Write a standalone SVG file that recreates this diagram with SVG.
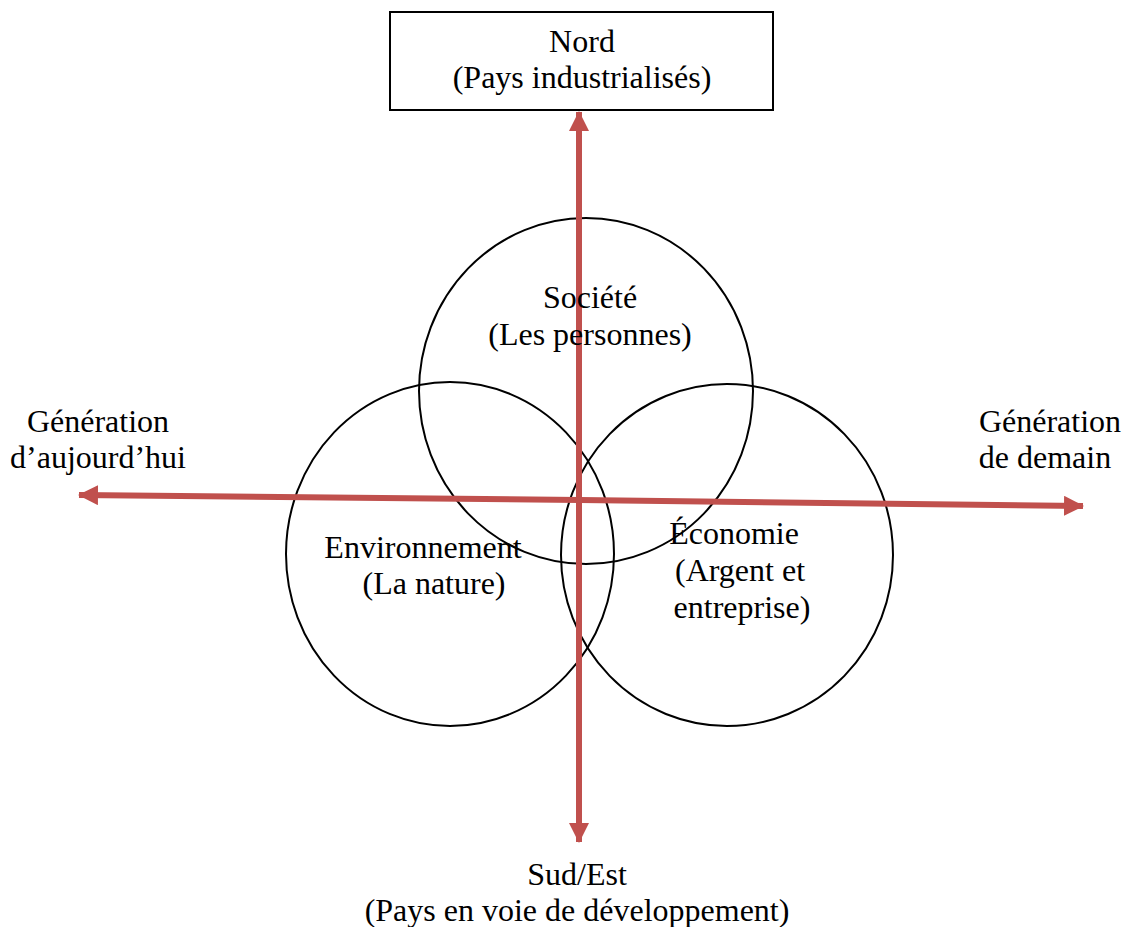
<svg xmlns="http://www.w3.org/2000/svg" width="1125" height="927" viewBox="0 0 1125 927">
  <defs>
    <style>
      .lbl { font-family: "Liberation Serif", "Times New Roman", serif; font-size: 32px; fill: #000; text-anchor: middle; }
      .ring { fill: none; stroke: #000; stroke-width: 2; }
      .axis { fill: none; stroke: #C0504D; stroke-width: 6; }
      .box { fill: #fff; stroke: #000; stroke-width: 2; }
    </style>
    <marker id="head" viewBox="0 0 20 20" refX="19" refY="10" markerWidth="20" markerHeight="20" markerUnits="userSpaceOnUse" orient="auto">
      <path d="M0,0 L20,10 L0,20 Z" fill="#C0504D"/>
    </marker>
  </defs>
  <rect width="1125" height="927" fill="#fff"/>

  <!-- the three pillars -->
  <g id="societe">
    <ellipse class="ring" cx="586" cy="391" rx="167" ry="173"/>
  </g>
  <g id="environnement">
    <ellipse class="ring" cx="450" cy="554" rx="164" ry="172"/>
  </g>
  <g id="economie">
    <ellipse class="ring" cx="727" cy="555" rx="166" ry="171"/>
  </g>

  <!-- axes -->
  <g id="connectors">
    <line class="axis" x1="579" y1="475" x2="579" y2="112" marker-end="url(#head)"/>
    <line class="axis" x1="579" y1="475" x2="579" y2="842" marker-end="url(#head)"/>
    <line class="axis" x1="580" y1="500" x2="79" y2="495" marker-end="url(#head)"/>
    <line class="axis" x1="580" y1="500" x2="1083" y2="506" marker-end="url(#head)"/>
  </g>

  <g id="nord">
    <rect class="box" x="390" y="12" width="383" height="98"/>
    <text class="lbl" x="582" y="52">Nord</text>
    <text class="lbl" x="582" y="88">(Pays industrialisés)</text>
  </g>

  <g id="sud-est">
    <text class="lbl" x="577" y="885">Sud/Est</text>
    <text class="lbl" x="577" y="921">(Pays en voie de développement)</text>
  </g>

  <g id="generation-aujourdhui">
    <text class="lbl" x="98" y="432">Génération</text>
    <text class="lbl" x="98" y="468">d’aujourd’hui</text>
  </g>

  <g id="generation-demain">
    <text class="lbl" x="1050" y="432">Génération</text>
    <text class="lbl" x="1045" y="468">de demain</text>
  </g>

  <g id="societe-label">
    <text class="lbl" x="590" y="308">Société</text>
    <text class="lbl" x="590" y="345">(Les personnes)</text>
  </g>

  <g id="environnement-label">
    <text class="lbl" x="423" y="558">Environnement</text>
    <text class="lbl" x="434" y="594">(La nature)</text>
  </g>

  <g id="economie-label">
    <text class="lbl" x="734" y="544">Économie</text>
    <text class="lbl" x="740" y="581">(Argent et</text>
    <text class="lbl" x="742" y="618">entreprise)</text>
  </g>
</svg>
